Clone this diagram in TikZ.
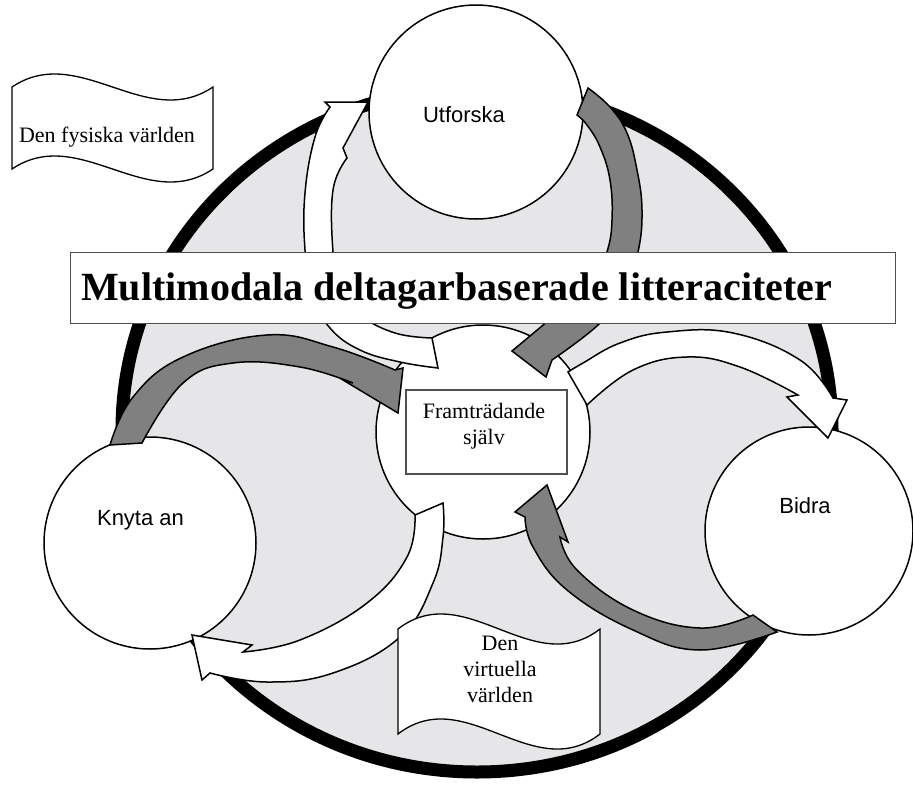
\documentclass[tikz,border=0pt]{standalone}
\usepackage{fontspec}
\setmainfont{Liberation Serif}
\newfontfamily\sansf{Liberation Sans}
\definecolor{bgfill}{RGB}{230,230,232}
\definecolor{arrgray}{RGB}{128,128,128}
\definecolor{boxline}{RGB}{80,80,80}
\newcommand{\flagpath}[5]{% x0 y0 w h hc
  (#1,#2) .. controls ({#1+#3/3},{#2-#5}) and ({#1+2*#3/3},{#2+#5}) .. ({#1+#3},#2)
  -- ({#1+#3},{#2+#4}) .. controls ({#1+2*#3/3},{#2+#4+#5}) and ({#1+#3/3},{#2+#4-#5}) .. (#1,{#2+#4}) -- cycle}
\begin{document}
\begin{tikzpicture}[x=1pt,y=-1pt,
  bubble/.style={circle, draw, line width=1.5pt, fill=white, inner sep=0pt},
  sanslbl/.style={font=\sansf\fontsize{22}{26}\selectfont, anchor=base, inner sep=0pt},
  seriflbl/.style={font=\fontsize{22}{26}\selectfont, align=center, inner sep=0pt},
  whitearrow/.style={draw, line width=1.5pt, fill=white, line join=miter},
  grayarrow/.style={draw, line width=1.5pt, fill=arrgray, line join=miter},
  flagshape/.style={draw, line width=1.3pt, fill=white},
  framebox/.style={draw=boxline, line width=1.3pt, fill=white, inner sep=0pt}]
\useasboundingbox (0,0) rectangle (913,785);
% big disc
\draw[line width=13pt, fill=bgfill] (477,430) ellipse [x radius=355pt, y radius=342pt];
% circles
\node[bubble, minimum size=214pt] (utf) at (476,112) {};
\node[bubble, minimum size=214pt] (self) at (483,432) {};
\node[bubble, minimum size=212pt] (knyta) at (150,543) {};
\node[bubble, minimum size=208pt] (bidra) at (809,531) {};
% arrow A (white): self -> Utforska
\path[whitearrow] plot[smooth, tension=0.7] coordinates {(438,368) (400,362) (360,350) (330,328) (312,295) (305,250) (305,193) (315,137) (330,107)}
  -- (325,102) -- (368,102) -- (343,148)
  -- plot[smooth, tension=0.7] coordinates {(347,158) (333,190) (333,252) (340,290) (360,315) (395,333) (432,338)} -- cycle;
% arrow B (gray): Utforska -> self
\path[grayarrow] plot[smooth, tension=0.7] coordinates {(588,88) (610,107) (627,133) (637,170) (642,210) (638,252) (624,292) (598,325) (552,360)}
  -- (546,377) -- (512,351) -- (566,306)
  -- plot[smooth, tension=0.7] coordinates {(572,320) (592,290) (607,252) (612,220) (610,180) (600,147) (587,125) (577,115)} -- cycle;
% arrow C (white): self -> Bidra
\path[whitearrow] plot[smooth, tension=0.7] coordinates {(568,372) (583,363) (620,343) (667,332) (733,333) (800,360) (833,398)}
  -- (847,400) -- (828,438) -- (787,397)
  -- plot[smooth, tension=0.7] coordinates {(798,395) (740,367) (687,357) (633,370) (587,405)} -- cycle;
% arrow D (gray): Bidra -> self
\path[grayarrow] plot[smooth, tension=0.7] coordinates {(777,632) (700,650) (633,630) (567,590) (533,547) (525,517)}
  -- (515,512) -- (547,485) -- (568,542)
  -- plot[smooth, tension=0.7] coordinates {(560,537) (577,570) (633,610) (700,628) (753,615)} -- cycle;
% arrow E (white): self -> Knyta an
\path[whitearrow] plot[smooth, tension=0.7] coordinates {(443,503) (443,537) (433,583) (400,637) (333,673) (267,682) (210,673)}
  -- (202,680) -- (192,635) -- (252,645)
  -- plot[smooth, tension=0.7] coordinates {(243,652) (300,640) (367,603) (407,557) (415,515)} -- cycle;
% arrow F (gray): Knyta an -> self
\path[grayarrow] plot[smooth, tension=0.7] coordinates {(110,445) (133,397) (183,357) (267,335) (333,347) (395,370)}
  -- (403,368) -- (398,413) -- (343,380)
  -- plot[smooth, tension=0.7] coordinates {(353,383) (300,367) (233,363) (183,383) (142,443)} -- cycle;
% flags
\path[flagshape] \flagpath{12}{87}{201}{82}{45};
\path[flagshape] \flagpath{398}{629}{202}{105}{52};
% centre box
\node[framebox, minimum width=161pt, minimum height=84pt] (selfbox) at (486.5,432) {};
% title box
\node[framebox, anchor=north west, minimum width=825pt, minimum height=71pt] (titlebox) at (70,252) {};
% texts
\node[font=\bfseries\fontsize{40}{44}\selectfont, anchor=base west, inner sep=0pt] (titletext) at (81,300) {Multimodala deltagarbaserade litteraciteter};
\node[seriflbl] (selftext) at (484,426) {Framträdande\\själv};
\node[seriflbl, anchor=base] (fysisk) at (107,142) {Den fysiska världen};
\node[seriflbl] (virtuell) at (500,669) {Den\\virtuella\\världen};
\node[sanslbl] (utftext) at (464,122) {Utforska};
\node[sanslbl] (knytatext) at (140.5,525) {Knyta an};
\node[sanslbl] (bidratext) at (805,513) {Bidra};
\end{tikzpicture}
\end{document}
